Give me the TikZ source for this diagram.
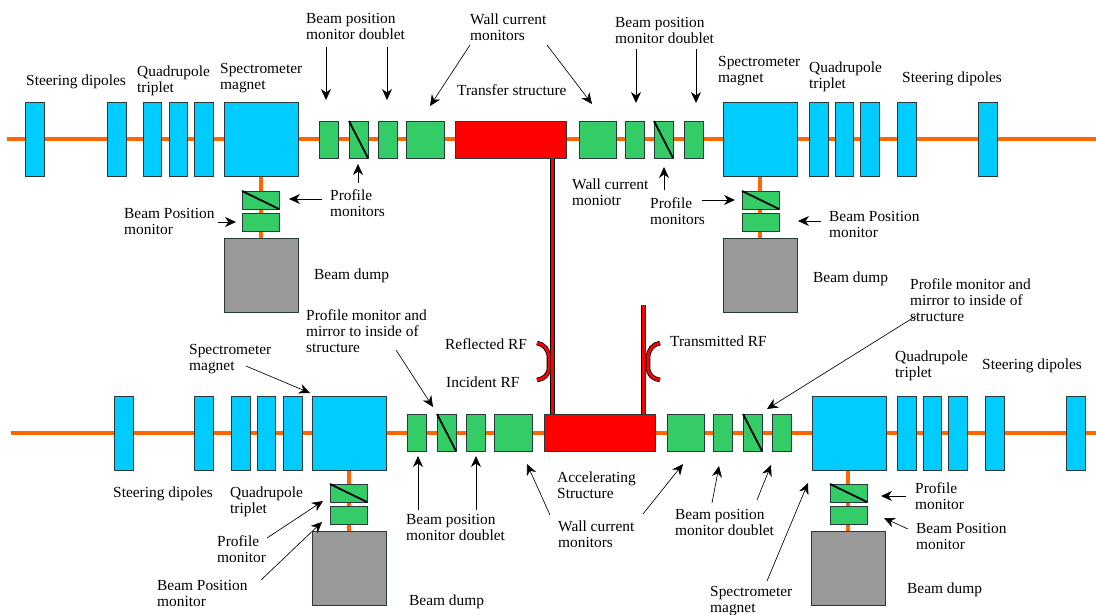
\documentclass[tikz,border=0pt]{standalone}
\usepackage{fontspec}
\setmainfont{Liberation Serif}
\usetikzlibrary{arrows.meta}
\definecolor{beamc}{HTML}{FF6600}
\definecolor{magc}{HTML}{00CCFF}
\definecolor{monc}{HTML}{33CC66}
\definecolor{dumpc}{HTML}{999999}
\definecolor{edgec}{HTML}{2A3A3C}
\tikzset{
  x=1pt,y=-1pt,
  part/.style={draw=edgec,line width=0.9pt,inner sep=0pt,outer sep=0pt},
  magnet/.style={part,fill=magc},
  mon/.style={part,fill=monc},
  dump/.style={part,fill=dumpc},
  rfs/.style={part,fill=red},
  beam/.style={draw=beamc,line width=4.4pt},
  guide/.style={draw=black,line width=4.6pt},
  guidein/.style={draw=red,line width=2.8pt},
  lab/.style={anchor=west,align=left,inner sep=0pt,font=\fontsize{15.4}{16}\selectfont},
  arr/.style={draw=black,line width=0.65pt,-{Stealth[length=11pt,width=10pt]}},
  slash/.style={draw=black,line width=1.8pt}
}
% \bx{name}{style}{x1}{y1}{x2}{y2}
\newcommand{\bx}[6]{\node[#2,minimum width=#5pt-#3pt,minimum height=#6pt-#4pt] (#1) at ({(#3+#5)/2},{(#4+#6)/2}) {};}
% \conn{id}{x1,y1}{x2,y2}
\newcommand{\conn}[3]{\coordinate (#1s) at (#2);\coordinate (#1e) at (#3);\draw[arr] (#1s) -- (#1e);}
% \lb{name}{x}{y centre}{text}
\newcommand{\lb}[4]{\node[lab] (#1) at (#2,#3) {#4};}
\begin{document}
\begin{tikzpicture}
\useasboundingbox (0,0) rectangle (1096,614);
\coordinate (bt0) at (7,139); \coordinate (bt1) at (1096,139);
\coordinate (bb0) at (11,433); \coordinate (bb1) at (1096,433);
\draw[beam] (bt0) -- (bt1);
\draw[beam] (bb0) -- (bb1);
\coordinate (v1a) at (261,176); \coordinate (v1b) at (261,238);
\coordinate (v2a) at (760,176); \coordinate (v2b) at (760,238);
\coordinate (v3a) at (349,470); \coordinate (v3b) at (349,531);
\coordinate (v4a) at (848,470); \coordinate (v4b) at (848,531);
\draw[beam] (v1a)--(v1b); \draw[beam] (v2a)--(v2b); \draw[beam] (v3a)--(v3b); \draw[beam] (v4a)--(v4b);
% RF guides
\coordinate (g1a) at (552.5,158); \coordinate (g1b) at (552.5,414);
\coordinate (g2a) at (643.5,305); \coordinate (g2b) at (643.5,414);
\foreach \s in {guide,guidein}{
 \draw[\s] (g1a)--(g1b);
 \draw[\s] (g2a)--(g2b);
 \coordinate (c1a) at (537,343); \coordinate (c1b) at (549,358); \coordinate (c1c) at (549,367); \coordinate (c1d) at (537,380);
 \coordinate (c2a) at (660,343); \coordinate (c2b) at (648,358); \coordinate (c2c) at (648,367); \coordinate (c2d) at (660,380);
 \draw[\s] (c1a) .. controls (544,344) and (549,350) .. (c1b) -- (c1c) .. controls (549,375) and (544,379) .. (c1d);
 \draw[\s] (c2a) .. controls (653,344) and (648,350) .. (c2b) -- (c2c) .. controls (648,375) and (653,379) .. (c2d);
}
% top line
\bx{td1}{magnet}{25}{102}{44}{176}
\bx{td2}{magnet}{107}{102}{126}{176}
\bx{tq1}{magnet}{143}{102}{161}{176}
\bx{tq2}{magnet}{169}{102}{187}{176}
\bx{tq3}{magnet}{194}{102}{213}{176}
\bx{ts1}{magnet}{224}{102}{298}{176}
\bx{tm1}{mon}{319}{121}{338}{158}
\bx{tm2}{mon}{349}{121}{368}{158}
\bx{tm3}{mon}{378}{121}{397}{158}
\bx{tm4}{mon}{406}{121}{444}{158}
\bx{trs}{rfs}{455}{121}{566}{158}
\bx{tm5}{mon}{579}{121}{616}{158}
\bx{tm6}{mon}{625}{121}{644}{158}
\bx{tm7}{mon}{654}{121}{673}{158}
\bx{tm8}{mon}{684}{121}{703}{158}
\bx{ts2}{magnet}{723}{102}{797}{176}
\bx{tq4}{magnet}{809}{102}{828}{176}
\bx{tq5}{magnet}{835}{102}{853}{176}
\bx{tq6}{magnet}{860}{102}{879}{176}
\bx{td3}{magnet}{897}{102}{916}{176}
\bx{td4}{magnet}{978}{102}{997}{176}
\bx{tp1}{mon}{242}{191}{279}{209}
\bx{tb1}{mon}{242}{213}{279}{231}
\bx{tg1}{dump}{224}{238}{298}{312}
\bx{tp2}{mon}{742}{191}{779}{209}
\bx{tb2}{mon}{742}{213}{779}{231}
\bx{tg2}{dump}{723}{238}{797}{312}
% bottom line
\bx{bd1}{magnet}{114}{396}{133}{470}
\bx{bd2}{magnet}{194}{396}{213}{470}
\bx{bq1}{magnet}{231}{396}{250}{470}
\bx{bq2}{magnet}{257}{396}{275}{470}
\bx{bq3}{magnet}{283}{396}{302}{470}
\bx{bs1}{magnet}{312}{396}{386}{470}
\bx{bm1}{mon}{407}{414}{426}{451}
\bx{bm2}{mon}{437}{414}{456}{451}
\bx{bm3}{mon}{466}{414}{485}{451}
\bx{bm4}{mon}{494}{414}{532}{451}
\bx{brs}{rfs}{544}{414}{655}{451}
\bx{bm5}{mon}{667}{414}{704}{451}
\bx{bm6}{mon}{713}{414}{732}{451}
\bx{bm7}{mon}{743}{414}{762}{451}
\bx{bm8}{mon}{772}{414}{791}{451}
\bx{bs2}{magnet}{812}{396}{886}{470}
\bx{bq4}{magnet}{897}{396}{916}{470}
\bx{bq5}{magnet}{923}{396}{941}{470}
\bx{bq6}{magnet}{948}{396}{967}{470}
\bx{bd3}{magnet}{985}{396}{1004}{470}
\bx{bd4}{magnet}{1066}{396}{1085}{470}
\bx{bp1}{mon}{330}{484}{367}{502}
\bx{bb1x}{mon}{330}{506}{367}{524}
\bx{bg1}{dump}{312}{531}{386}{605}
\bx{bp2}{mon}{830}{484}{867}{502}
\bx{bb2x}{mon}{830}{506}{867}{524}
\bx{bg2}{dump}{811}{531}{885}{605}
% profile-monitor slashes
\foreach \n in {tm2,tm7,bm2,bm7}{\draw[slash] (\n.north west) -- (\n.south east);}
\foreach \n in {tp1,tp2,bp1,bp2}{\draw[slash] (\n.north west) -- (\n.south east);}
% labels
\lb{l1}{26}{82}{Steering dipoles}
\lb{l2}{137}{81}{Quadrupole\\triplet}
\lb{l3}{220}{78}{Spectrometer\\magnet}
\lb{l4}{306}{26}{Beam position\\monitor doublet}
\lb{l5}{470}{27}{Wall current\\monitors}
\lb{l6}{457}{90}{Transfer structure}
\lb{l7}{615}{30}{Beam position\\monitor doublet}
\lb{l8}{718}{71}{Spectrometer\\magnet}
\lb{l9}{809}{77}{Quadrupole\\triplet}
\lb{l10}{902}{79}{Steering dipoles}
\lb{l11}{330}{203}{Profile\\monitors}
\lb{l12}{124}{221}{Beam Position\\monitor}
\lb{l13}{314}{276}{Beam dump}
\lb{l14}{572}{192}{Wall current\\moniotr}
\lb{l15}{650}{211}{Profile\\monitors}
\lb{l16}{829}{224}{Beam Position\\monitor}
\lb{l17}{813}{279}{Beam dump}
\lb{l18}{910}{300}{Profile monitor and\\mirror to inside of\\structure}
\lb{l19}{306}{331}{Profile monitor and\\mirror to inside of\\structure}
\lb{l20}{189}{359}{Spectrometer\\magnet}
\lb{l21}{445}{344}{Reflected RF}
\lb{l22}{446}{382}{Incident RF}
\lb{l23}{670}{341}{Transmitted RF}
\lb{l24}{895}{366}{Quadrupole\\triplet}
\lb{l25}{982}{366}{Steering dipoles}
\lb{l26}{113}{494}{Steering dipoles}
\lb{l27}{230}{502}{Quadrupole\\triplet}
\lb{l28}{217}{549}{Profile\\monitor}
\lb{l29}{157}{593}{Beam Position\\monitor}
\lb{l30}{409}{602}{Beam dump}
\lb{l31}{406}{527}{Beam position\\monitor doublet}
\lb{l32}{557}{485}{Accelerating\\Structure}
\lb{l33}{558}{534}{Wall current\\monitors}
\lb{l34}{675}{522}{Beam position\\monitor doublet}
\lb{l35}{710}{601}{Spectrometer\\magnet}
\lb{l36}{915}{496}{Profile\\monitor}
\lb{l37}{916}{536}{Beam Position\\monitor}
\lb{l38}{907}{590}{Beam dump}
% arrows
\conn{a1}{326,47}{326,100}
\conn{a2}{387,47}{387,100}
\conn{a3}{470,45}{430,106}
\conn{a4}{547,45}{592,104}
\conn{a5}{636,49}{636,103}
\conn{a6}{696,49}{696,103}
\conn{a7}{358,183}{358,164}
\conn{a8}{322,199}{289,199}
\conn{a9}{218,222}{236,222}
\conn{a10}{664,190}{664,167}
\conn{a11}{702,200}{735,200}
\conn{a12}{821,221}{798,221}
\conn{a13}{246,366}{310,393}
\conn{a14}{396,350}{433,407}
\conn{a15}{916,316}{767,409}
\conn{a16}{418,510}{418,456}
\conn{a17}{476,510}{476,456}
\conn{a18}{550,515}{527,464}
\conn{a19}{643,514}{683,464}
\conn{a20}{712,503}{719,466}
\conn{a21}{757,500}{771,465}
\conn{a22}{767,581}{808,483}
\conn{a23}{906,496}{881,496}
\conn{a24}{908,529}{884,518}
\conn{a25}{267,538}{323,501}
\conn{a26}{261,580}{322,522}
\end{tikzpicture}
\end{document}
